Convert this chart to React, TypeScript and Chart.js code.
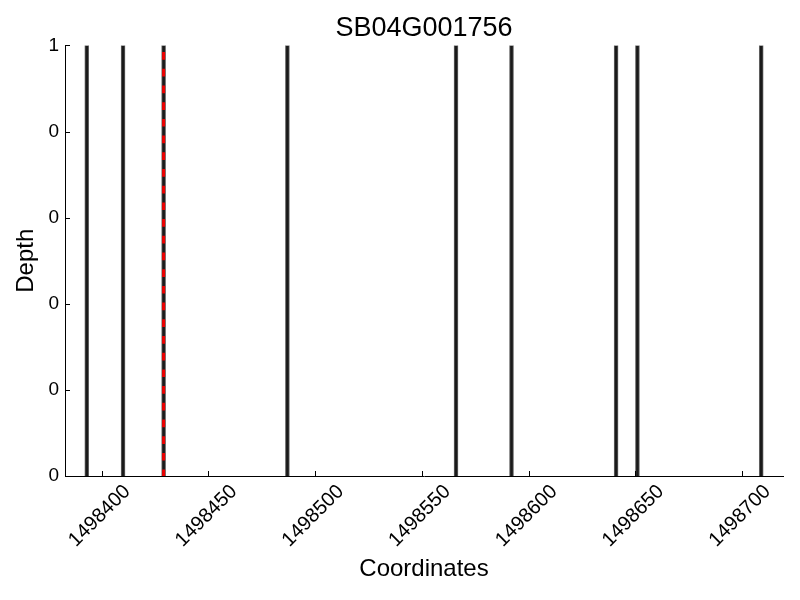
import React, { useEffect, useRef } from "react";
import { Chart, registerables } from "chart.js";

Chart.register(...registerables);

const chartTitle = "SB04G001756";
const xAxisTitle = "Coordinates";
const yAxisTitle = "Depth";

const positions = [1498393, 1498410, 1498429, 1498487, 1498566, 1498592, 1498641, 1498651, 1498709];
const depths = [1, 1, 1, 1, 1, 1, 1, 1, 1];
const markerPosition = 1498429;

const xTickValues = [1498400, 1498450, 1498500, 1498550, 1498600, 1498650, 1498700];
const xTickLabels = ["1498400", "1498450", "1498500", "1498550", "1498600", "1498650", "1498700"];
const yTickValues = [0, 0.2, 0.4, 0.6, 0.8, 1];
const yTickLabels = ["0", "0", "0", "0", "0", "1"];

const xMin = 1498382.8;
const xMax = 1498719.2;

const FONT = "'Liberation Sans', Arial, sans-serif";

const inwardTicks = {
  id: "inwardTicks",
  afterDatasetsDraw(chart: any) {
    const { ctx, scales } = chart;
    const xs = scales.x;
    const ys = scales.y;
    const area = chart.chartArea;
    ctx.save();
    ctx.strokeStyle = "#000";
    ctx.lineWidth = 1;
    ctx.beginPath();
    xs.ticks.forEach((t: any) => {
      const px = Math.round(xs.getPixelForValue(t.value)) + 0.5;
      ctx.moveTo(px, area.bottom);
      ctx.lineTo(px, area.bottom - 5);
    });
    ys.ticks.forEach((t: any) => {
      const py = Math.round(ys.getPixelForValue(t.value)) + 0.5;
      ctx.moveTo(area.left, py);
      ctx.lineTo(area.left + 5, py);
    });
    ctx.stroke();
    // rotated x tick labels, centred on their ticks
    ctx.fillStyle = "#000";
    ctx.font = `20px ${FONT}`;
    ctx.textAlign = "center";
    ctx.textBaseline = "middle";
    xs.ticks.forEach((t: any, i: number) => {
      const px = xs.getPixelForValue(t.value);
      ctx.save();
      ctx.translate(px - 2, area.bottom + 40);
      ctx.rotate(-Math.PI / 4);
      ctx.fillText(xTickLabels[i], 0, 0);
      ctx.restore();
    });
    ctx.restore();
  },
};

export default function App() {
  const canvasRef = useRef<HTMLCanvasElement | null>(null);

  useEffect(() => {
    if (!canvasRef.current) return;
    const chart = new Chart(canvasRef.current, {
      type: "bar",
      data: {
        datasets: [
          {
            type: "line",
            data: [
              { x: markerPosition, y: 1 },
              { x: markerPosition, y: 0 },
            ],
            borderColor: "#ee0000",
            borderWidth: 3,
            borderDash: [7.7, 9],
            borderDashOffset: 10,
            pointRadius: 0,
            fill: false,
            order: 0,
          } as any,
          {
            type: "bar",
            data: positions.map((x, i) => ({ x, y: depths[i] })),
            backgroundColor: "#1a1a1a",
            borderColor: "#666",
            borderWidth: 1,
            barThickness: 4,
            order: 1,
          } as any,
        ],
      },
      options: {
        animation: false,
        responsive: true,
        maintainAspectRatio: false,
        layout: { padding: { left: 0, right: 17, top: 0, bottom: 0 } },
        plugins: {
          legend: { display: false },
          tooltip: { enabled: false },
          title: {
            display: true,
            text: chartTitle,
            fullSize: false,
            color: "#000",
            font: { family: FONT, size: 27, weight: "normal" },
            padding: { top: 12, bottom: 1 },
          },
        },
        scales: {
          x: {
            type: "linear",
            min: xMin,
            max: xMax,
            offset: false,
            grid: { display: false, drawTicks: false },
            border: { display: true, color: "#000", width: 1 },
            afterBuildTicks: (s: any) => {
              s.ticks = xTickValues.map((v) => ({ value: v }));
            },
            afterFit: (s: any) => {
              s.height = 124;
            },
            ticks: {
              display: false,
            },
            title: {
              display: true,
              text: xAxisTitle,
              color: "#000",
              font: { family: FONT, size: 24 },
              padding: { top: 0, bottom: 16 },
            },
          },
          y: {
            type: "linear",
            min: 0,
            max: 1,
            grid: { display: false, drawTicks: false },
            border: { display: true, color: "#000", width: 1 },
            afterBuildTicks: (s: any) => {
              s.ticks = yTickValues.map((v) => ({ value: v }));
            },
            afterFit: (s: any) => {
              s.width = 65;
            },
            ticks: {
              padding: 6,
              color: "#000",
              font: { family: FONT, size: 19 },
              callback: (_v: any, i: number) => yTickLabels[i],
            },
            title: {
              display: true,
              text: yAxisTitle,
              color: "#000",
              font: { family: FONT, size: 24 },
              padding: { top: 12, bottom: 0 },
            },
          },
        },
      } as any,
      plugins: [inwardTicks],
    });
    return () => chart.destroy();
  }, []);

  return (
    <div style={{ position: "absolute", left: 0, top: 0, width: 800, height: 600, background: "#fff" }}>
      <canvas ref={canvasRef} />
    </div>
  );
}
